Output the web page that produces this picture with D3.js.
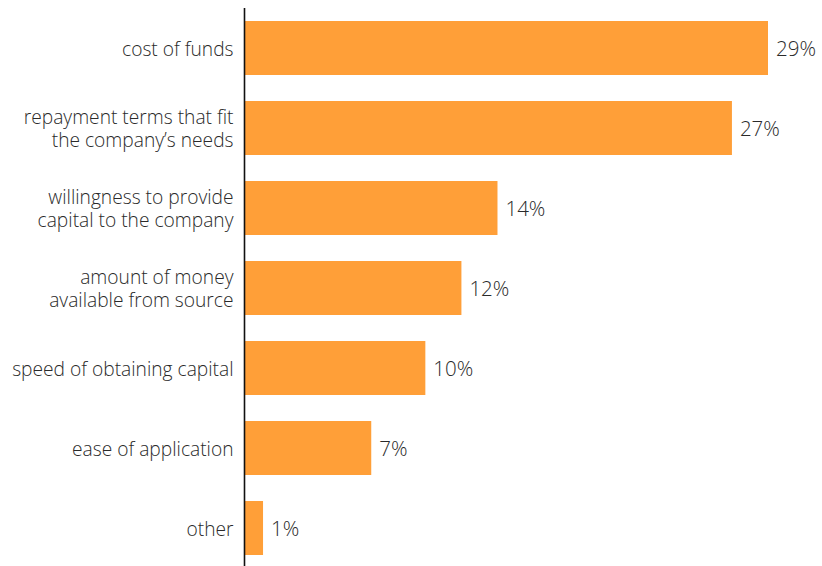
<!DOCTYPE html>
<html>
<head>
<meta charset="utf-8">
<script src="https://cdn.jsdelivr.net/npm/d3@7"></script>
<style>
  html, body { margin: 0; padding: 0; background: #fff; }
  svg text { font-family: "Open Sans", Lato, sans-serif; font-weight: 300; fill: #2a2a2a; }
</style>
</head>
<body>
<svg id="chart" width="822" height="566"></svg>
<script>
// Survey: most important factor when choosing a capital source (% of respondents)
const categories = [
  ["cost of funds"],
  ["repayment terms that fit", "the company\u2019s needs"],
  ["willingness to provide", "capital to the company"],
  ["amount of money", "available from source"],
  ["speed of obtaining capital"],
  ["ease of application"],
  ["other"]
];
const values = [29, 27, 14, 12, 10, 7, 1];
const valueLabels = ["29%", "27%", "14%", "12%", "10%", "7%", "1%"];

const svg = d3.select("#chart");
const ids = categories.map((c, i) => i);

const y = d3.scaleBand()
  .domain(ids)
  .range([8, 568])
  .paddingInner(0.325)
  .paddingOuter(0.1625);

const x = d3.scaleLinear()
  .domain([0, 29])
  .range([245, 768]);

// bars
svg.append("g").selectAll("rect")
  .data(values)
  .join("rect")
  .attr("x", x(0))
  .attr("y", (d, i) => y(i))
  .attr("width", d => x(d) - x(0))
  .attr("height", y.bandwidth())
  .attr("fill", "#ff9f38");

// value labels
svg.append("g").selectAll("text")
  .data(values)
  .join("text")
  .attr("x", d => x(d) + 8)
  .attr("y", (d, i) => y(i) + y.bandwidth() / 2)
  .attr("dy", "0.38em")
  .attr("font-size", 20.5)
  .text((d, i) => valueLabels[i]);

// category axis
const yAxis = d3.axisLeft(y).tickSize(0).tickPadding(11).tickFormat(() => "");
const axisG = svg.append("g")
  .attr("transform", `translate(${x(0) - 0.5},0)`)
  .call(yAxis);
axisG.select(".domain")
  .attr("d", "M0,8V566")
  .attr("stroke", "#111")
  .attr("stroke-width", 1.6);

const lineH = 23;
axisG.selectAll(".tick").each(function (d) {
  const lines = categories[d];
  const t = d3.select(this).select("text")
    .attr("x", -11)
    .attr("dy", null)
    .attr("font-size", 19.2)
    .attr("text-anchor", "end")
    .style("font-family", "'Open Sans', Lato, sans-serif")
    .style("font-weight", 300)
    .style("fill", "#2a2a2a");
  t.selectAll("tspan")
    .data(lines)
    .join("tspan")
    .attr("x", -11)
    .attr("y", (l, j) => (j - (lines.length - 1) / 2) * lineH)
    .attr("dy", "0.4em")
    .text(l => l);
});
</script>
</body>
</html>
